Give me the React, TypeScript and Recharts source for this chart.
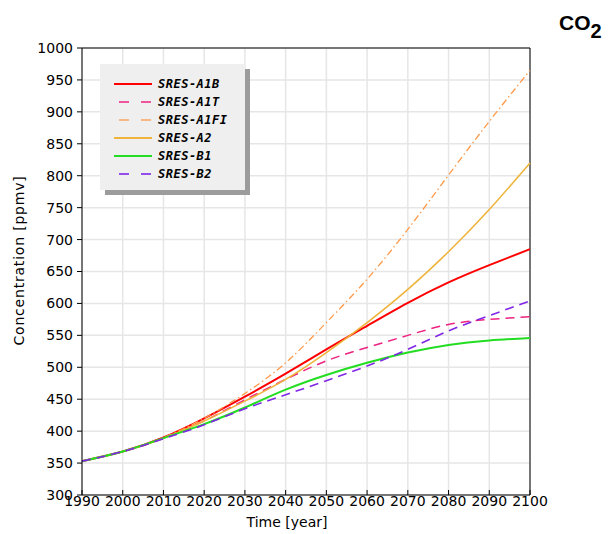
import { CartesianGrid, Legend, Line, LineChart, ReferenceLine, XAxis, YAxis } from "recharts";

const years = [1990, 2000, 2010, 2020, 2030, 2040, 2050, 2060, 2070, 2080, 2090, 2100];
const a1b = [353, 368, 390, 420, 454, 490, 528, 565, 601, 633, 660, 685];
const a1t = [353, 368, 389, 416, 449, 481, 510, 531, 550, 567, 575, 579];
const a1fi = [353, 368, 390, 420, 459, 507, 570, 638, 716, 801, 885, 965];
const a2 = [353, 368, 389, 416, 447, 481, 523, 570, 622, 681, 747, 820];
const b1 = [353, 368, 389, 411, 437, 465, 488, 507, 523, 535, 542, 546];
const b2 = [353, 368, 388, 410, 435, 457, 479, 502, 528, 557, 581, 604];
const yTicks = [300, 350, 400, 450, 500, 550, 600, 650, 700, 750, 800, 850, 900, 950, 1000];

const series = [
  { key: "a1b", name: "SRES-A1B", values: a1b, color: "#ff0000", dash: "", width: 2 },
  { key: "a1t", name: "SRES-A1T", values: a1t, color: "#ee2281", dash: "9 6", width: 1.5 },
  { key: "a1fi", name: "SRES-A1FI", values: a1fi, color: "#ff9a4a", dash: "7 3 1.5 3", width: 1.3 },
  { key: "a2", name: "SRES-A2", values: a2, color: "#eeb43c", dash: "", width: 1.6 },
  { key: "b1", name: "SRES-B1", values: b1, color: "#22dd22", dash: "", width: 2 },
  { key: "b2", name: "SRES-B2", values: b2, color: "#8026e6", dash: "9 6", width: 1.6 },
];

const data = years.map((year, i) => {
  const row: Record<string, number> = { year };
  series.forEach(s => (row[s.key] = s.values[i]));
  return row;
});

const font = "'DejaVu Sans', sans-serif";

function XTick(props: any) {
  const { x, y, payload } = props;
  return (
    <g>
      <line x1={x} x2={x} y1={y - 5} y2={y} stroke="#000" />
      <text x={x} y={y} dy="0.78em" textAnchor="middle" fontSize={14} fontFamily={font} fill="#000">
        {payload.value}
      </text>
    </g>
  );
}

function LegendBox() {
  return (
    <div
      style={{
        width: 145,
        height: 126,
        background: "#efefef",
        boxShadow: "5px 5px 0 #9c9c9c",
        boxSizing: "border-box",
        paddingTop: 11,
      }}
    >
      {series.map(s => (
        <div key={s.key} style={{ display: "flex", alignItems: "center", height: 18 }}>
          <svg width={52} height={10} style={{ marginLeft: 12 }}>
            {s.dash ? (
              <g stroke={s.color} strokeWidth={s.width}>
                <line x1={7} x2={17} y1={5} y2={5} />
                <line x1={29} x2={39} y1={5} y2={5} />
              </g>
            ) : (
              <line x1={2} x2={40} y1={5} y2={5} stroke={s.color} strokeWidth={2} />
            )}
          </svg>
          <span
            style={{
              marginLeft: -6,
              fontFamily: "'DejaVu Sans Mono', monospace",
              fontStyle: "italic",
              fontWeight: "bold",
              fontSize: 12,
              letterSpacing: 0.5,
              color: "#000",
            }}
          >
            {s.name}
          </span>
        </div>
      ))}
    </div>
  );
}

export default function App() {
  return (
    <div style={{ position: "absolute", left: 0, top: 0, width: 615, height: 534, background: "#fff" }}>
      <LineChart width={615} height={534} data={data} margin={{ top: 48, right: 85, bottom: 0, left: 32 }}>
        <CartesianGrid stroke="#e6e6e6" strokeWidth={1.5} />
        <XAxis
          dataKey="year"
          type="number"
          domain={[1990, 2100]}
          ticks={years}
          interval={0}
          height={39}
          tickSize={0}
          tickMargin={0}
          tick={<XTick />}
          axisLine={{ stroke: "#000" }}
          label={{ value: "Time [year]", position: "insideBottom", offset: 7, dx: -19, fontSize: 14, fontFamily: font, fill: "#000" }}
        />
        <YAxis
          type="number"
          domain={[300, 1000]}
          ticks={yTicks}
          interval={0}
          width={50}
          tickSize={5}
          tickMargin={4}
          axisLine={{ stroke: "#000" }}
          tickLine={{ stroke: "#000" }}
          tick={{ fontSize: 14, fontFamily: font, fill: "#000" }}
          label={{
            value: "Concentration [ppmv]",
            angle: -90,
            position: "center",
            dx: -38,
            dy: -11,
            fontSize: 14,
            fontFamily: font,
            fill: "#000",
            letterSpacing: 0.8,
          }}
        />
        <ReferenceLine y={1000} stroke="#000" />
        <ReferenceLine x={2100} stroke="#000" />
        <Legend
          layout="vertical"
          verticalAlign="middle"
          align="center"
          wrapperStyle={{ position: "absolute", left: 100, top: 64, width: 145, height: 126 }}
          content={<LegendBox />}
        />
        {series.map(s => (
          <Line
            key={s.key}
            type="natural"
            dataKey={s.key}
            name={s.name}
            stroke={s.color}
            strokeWidth={s.width}
            strokeDasharray={s.dash || undefined}
            dot={false}
            isAnimationActive={false}
          />
        ))}
      </LineChart>
      <div
        style={{
          position: "absolute",
          left: 559,
          top: 11,
          fontFamily: "'Liberation Sans', Arial, sans-serif",
          fontWeight: "bold",
          fontSize: 21,
          color: "#000",
        }}
      >
        CO<sub style={{ fontSize: 20, verticalAlign: "-8px", lineHeight: 0 }}>2</sub>
      </div>
    </div>
  );
}
